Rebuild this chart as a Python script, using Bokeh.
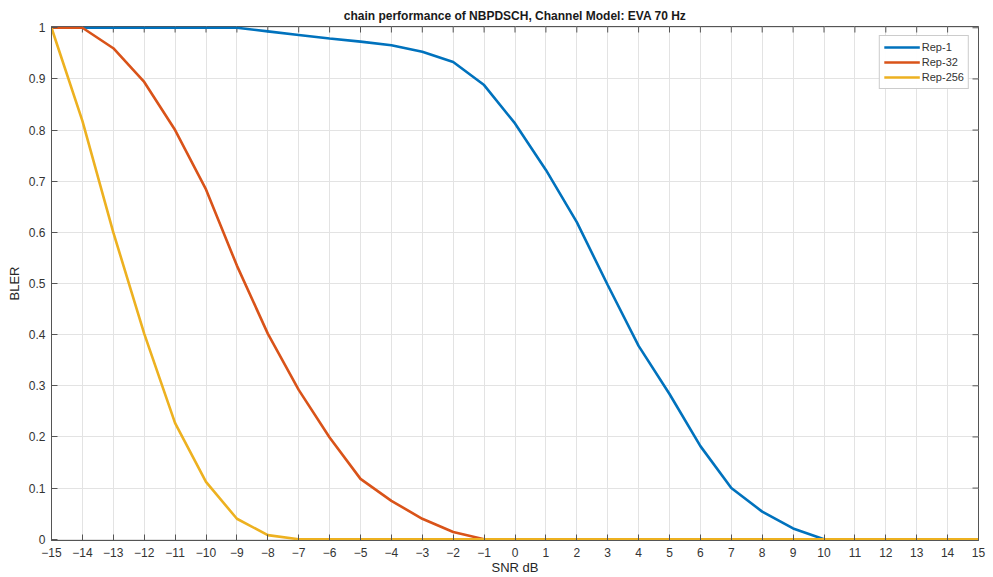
import math
from bokeh.plotting import figure
from bokeh.models import (Range1d, FixedTicker, Legend, LegendItem,
                          CustomJSTickFormatter)
from bokeh.embed import file_html
from bokeh.resources import INLINE

snr = list(range(-15, 16))
rep1 = [1, 1, 1, 1, 1, 1, 1, 0.993, 0.986, 0.979, 0.973, 0.966, 0.953, 0.933, 0.888,
        0.813, 0.722, 0.62, 0.497, 0.378, 0.284, 0.182, 0.1, 0.054, 0.021, 0,
        0, 0, 0, 0, 0]
rep32 = [1, 1, 0.96, 0.894, 0.8, 0.684, 0.535, 0.402, 0.292, 0.199, 0.118, 0.075, 0.04,
         0.014, 0, 0, 0, 0, 0, 0, 0, 0, 0, 0, 0, 0, 0, 0, 0, 0, 0]
rep256 = [1, 0.818, 0.6, 0.402, 0.227, 0.112, 0.04, 0.008, 0, 0, 0, 0, 0, 0, 0, 0,
          0, 0, 0, 0, 0, 0, 0, 0, 0, 0, 0, 0, 0, 0, 0]
series_names = ["Rep-1", "Rep-32", "Rep-256"]
series_colors = ["#0072BD", "#D95319", "#EDB120"]
x_ticks = list(range(-15, 16))
y_ticks = [round(i * 0.1, 1) for i in range(11)]

FONT = "Liberation Sans"
AX = "#555555"
PAD = 0.0025

p = figure(width=993, height=577, output_backend="svg", toolbar_location=None,
           x_range=Range1d(-15, 15), y_range=Range1d(-PAD, 1 + PAD),
           min_border_left=51, min_border_right=15, min_border_top=26, min_border_bottom=36,
           title="chain performance of NBPDSCH, Channel Model: EVA 70 Hz")
p.title.align = "center"
p.title.text_font = FONT
p.title.text_font_size = "12px"
p.title.text_font_style = "bold"
p.title.text_color = "#1a1a1a"
p.title.standoff = 7
p.outline_line_color = AX
p.outline_line_alpha = 1

fmt = CustomJSTickFormatter(code="return tick.toFixed(1).replace(/\\.0$/, '');")

for ax in [p.xaxis[0], p.yaxis[0]]:
    ax.major_tick_in = 6
    ax.major_tick_out = 0
    ax.minor_tick_in = 0
    ax.minor_tick_out = 0
    ax.axis_line_color = AX
    ax.major_tick_line_color = AX
    ax.major_label_text_font = FONT
    ax.major_label_text_font_size = "12px"
    ax.major_label_text_color = "#333333"
    ax.axis_label_text_font = FONT
    ax.axis_label_text_font_size = "13px"
    ax.axis_label_text_font_style = "normal"
    ax.axis_label_text_color = "#262626"

p.xaxis[0].ticker = FixedTicker(ticks=x_ticks)
p.yaxis[0].ticker = FixedTicker(ticks=y_ticks)
p.yaxis[0].formatter = fmt
p.xaxis[0].axis_label = "SNR dB"
p.yaxis[0].axis_label = "BLER"
p.xaxis[0].major_label_standoff = 7
p.xaxis[0].axis_label_standoff = 0
p.yaxis[0].major_label_standoff = 6
p.yaxis[0].axis_label_standoff = 4

p.xgrid.ticker = FixedTicker(ticks=x_ticks)
p.ygrid.ticker = FixedTicker(ticks=y_ticks)
p.grid.grid_line_color = "#e3e3e3"
p.grid.grid_line_width = 1

# box ticks on top and right edges (half of each dash is clipped by the frame)
p.scatter(x_ticks, [1 + PAD] * len(x_ticks), marker="dash", size=12, angle=math.pi / 2,
          line_color=AX, line_width=1)
p.scatter([15] * len(y_ticks), y_ticks, marker="dash", size=12,
          line_color=AX, line_width=1)

items = []
for name, ys, c in zip(series_names, [rep1, rep32, rep256], series_colors):
    r = p.line(snr, ys, line_color=c, line_width=2.6)
    items.append(LegendItem(label=name, renderers=[r]))

leg = Legend(items=items, location="top_right")
leg.label_text_font = FONT
leg.label_text_font_size = "11px"
leg.label_text_color = "#333333"
leg.glyph_width = 36
leg.glyph_height = 14
leg.label_height = 14
leg.spacing = 1
leg.padding = 4
leg.margin = 9
leg.label_standoff = 2
leg.border_line_color = "#999999"
leg.border_line_width = 1
p.add_layout(leg)

open("out.html", "w").write(file_html(p, INLINE))
